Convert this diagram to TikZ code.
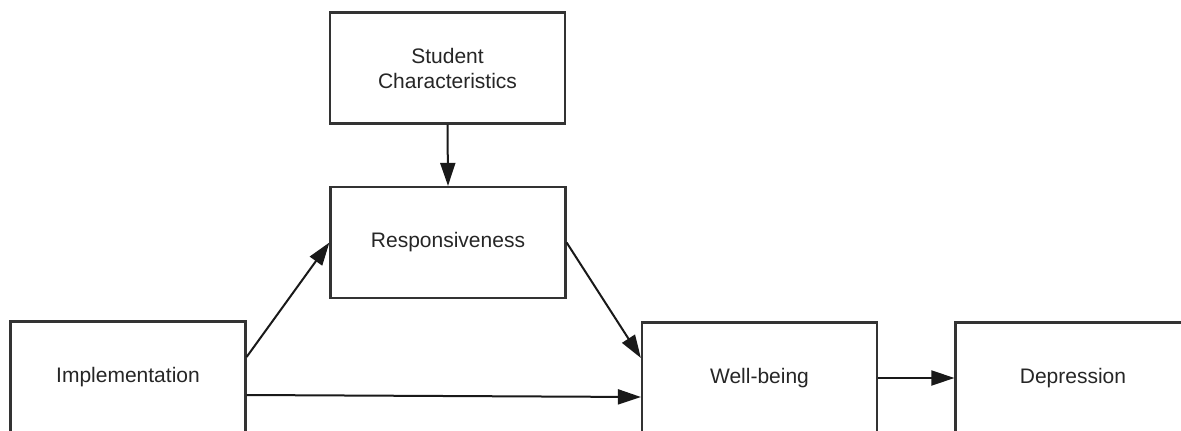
\documentclass[tikz,border=0pt]{standalone}
\usepackage{fontspec}
\setmainfont{Liberation Sans}
\usetikzlibrary{arrows.meta}
\begin{document}
\begin{tikzpicture}[x=1pt,y=-1pt,
  box/.style={draw=black!80,line width=2.2pt,fill=white,minimum width=235pt,minimum height=111pt,inner sep=0pt,align=center,font=\fontsize{21}{25}\selectfont,text=black!85},
  conn/.style={draw=black!90,line width=2pt,-{Triangle[length=23pt,width=15pt]}}]
\useasboundingbox (0,0) rectangle (1181,431);
\clip (0,0) rectangle (1181,431);
\node[box] (sc) at (447.5,68) {Student\\Characteristics};
\node[box] (resp) at (448,242.5) {Responsiveness};
\node[box] (impl) at (128,377) {Implementation};
\node[box] (wb) at (759.5,378) {Well-being};
\node[box] (dep) at (1073,378) {Depression};
\draw[conn] (sc.south) -- (resp.north);
\draw[conn] ([yshift=20pt]impl.east) -- (resp.west);
\draw[conn] (resp.east) -- ([yshift=20pt]wb.west);
\draw[conn] ([yshift=-18pt]impl.east) -- ([yshift=-19pt]wb.west);
\draw[conn] (wb.east) -- (dep.west);
\end{tikzpicture}
\end{document}
